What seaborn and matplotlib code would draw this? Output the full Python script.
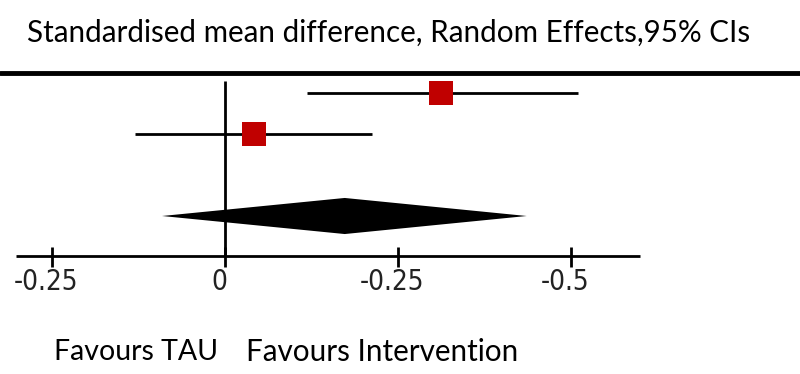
import matplotlib
matplotlib.use("Agg")
import matplotlib.pyplot as plt
import seaborn as sns
import pandas as pd
from matplotlib.lines import Line2D

sns.set_theme(style="white")

# ---- data ----
studies = ["Study 1", "Study 2"]
study_est = [0.312, 0.042]
study_lo = [0.118, -0.130]
study_hi = [0.510, 0.212]
study_row = [0, 1]

pooled_est = 0.173
pooled_lo = -0.091
pooled_hi = 0.436
pooled_row = 3

tick_values = [-0.25, 0, 0.25, 0.5]
tick_labels = ["-0.25", "0", "-0.25", "-0.5"]

title_text = "Standardised mean difference, Random Effects,95% CIs"
left_label = "Favours TAU"
right_label = "Favours Intervention"

# ---- figure ----
W, H, DPI = 800, 374, 100
fig = plt.figure(figsize=(W / DPI, H / DPI), dpi=DPI)
ax = fig.add_axes([0, 0, 1, 1])

px_per_x = 692.0
x0_px = 225.0
px_per_row = 41.0
row0_px = 93.0
ax.set_xlim((0 - x0_px) / px_per_x, (W - x0_px) / px_per_x)
ax.set_ylim((H - row0_px) / px_per_row, (0 - row0_px) / px_per_row)
ax.axis("off")

def ypx(p):
    return (p - row0_px) / px_per_row

def xpx(p):
    return (p - x0_px) / px_per_x

df = pd.DataFrame({"study": studies, "est": study_est, "lo": study_lo,
                   "hi": study_hi, "row": study_row})

# confidence interval lines
ax.hlines(df["row"], df["lo"], df["hi"], color="black", lw=2.0, zorder=2)

# study squares
sns.scatterplot(data=df, x="est", y="row", marker="s", s=300, color="#c00000",
                edgecolor="#c00000", linewidth=0, ax=ax, zorder=3, legend=False)

# pooled diamond
half_h = 0.44
ax.fill([pooled_lo, pooled_est, pooled_hi, pooled_est],
        [pooled_row, pooled_row - half_h, pooled_row, pooled_row + half_h],
        color="black", lw=0, zorder=3)

# axis line
axis_y = ypx(256)
ax.hlines(axis_y, xpx(16), xpx(640), color="black", lw=2.0, zorder=2)
# zero line
ax.vlines(0, ypx(81), axis_y, color="black", lw=2.0, zorder=1)
# ticks
ax.vlines(tick_values, ypx(247), ypx(267), color="black", lw=2.0, zorder=2)
for v, lab in zip(tick_values, tick_labels):
    ax.text(v - 0.008, ypx(268), lab, ha="center", va="top", fontsize=20,
            family="DejaVu Sans", fontstretch="condensed", color="#222222")

# top thick rule
fig.add_artist(Line2D([0, 1], [1 - 73 / H, 1 - 73 / H], color="black", lw=3.5,
                      transform=fig.transFigure))

# title and footer labels
txt_font = ["Lato", "DejaVu Sans"]
fig.text(27 / W, 1 - 33 / H, title_text, ha="left", va="center", fontsize=21.3,
         family=txt_font, color="black")
fig.text(54 / W, 1 - 352 / H, left_label, ha="left", va="center", fontsize=20.5,
         family=txt_font, color="black")
fig.text(246 / W, 1 - 352 / H, right_label, ha="left", va="center", fontsize=21.3,
         family=txt_font, color="black")

fig.savefig("out.png", dpi=DPI)
